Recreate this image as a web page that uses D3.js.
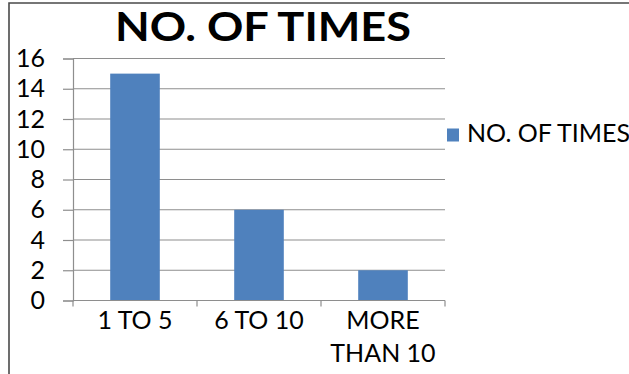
<!DOCTYPE html>
<html>
<head>
<meta charset="utf-8">
<script src="https://cdn.jsdelivr.net/npm/d3@7"></script>
<style>
  html, body { margin: 0; padding: 0; background: #fff; }
  svg { display: block; }
  text { font-family: Lato, "Open Sans", sans-serif; fill: #000; }
</style>
</head>
<body>
<svg id="chart" width="629" height="374"></svg>
<script>
// Chart data
const categories = [["1 TO 5"], ["6 TO 10"], ["MORE", "THAN 10"]];
const seriesName = "NO. OF TIMES";
const values = [15, 6, 2];
const yTicks = [0, 2, 4, 6, 8, 10, 12, 14, 16];
const chartTitle = "NO. OF TIMES";

const svg = d3.select("#chart");
const W = 629, H = 374;
const plot = { left: 73, right: 445, top: 58.5, bottom: 300.5 };
const gridColor = "#8e8e8e";
const barColor = "#4f81bd";

// Frame around the chart area
svg.append("path")
  .attr("d", `M9,${H} V3 H${W}`)
  .attr("fill", "none")
  .attr("stroke", "#4a4a4a")
  .attr("stroke-width", 1.6);

const x = d3.scaleBand()
  .domain(categories.map(c => c.join(" ")))
  .range([plot.left, plot.right])
  .paddingInner(0.6)
  .paddingOuter(0.3);

const y = d3.scaleLinear()
  .domain([0, 16])
  .range([plot.bottom, plot.top]);

// Horizontal gridlines
svg.append("g")
  .selectAll("line")
  .data(yTicks.filter(t => t > 0))
  .join("line")
  .attr("x1", plot.left).attr("x2", plot.right)
  .attr("y1", d => y(d)).attr("y2", d => y(d))
  .attr("stroke", gridColor).attr("stroke-width", 1.2);

// Bars
svg.append("g")
  .selectAll("rect")
  .data(values)
  .join("rect")
  .attr("x", (d, i) => x(categories[i].join(" ")))
  .attr("width", x.bandwidth())
  .attr("y", d => y(d))
  .attr("height", d => y(0) - y(d))
  .attr("fill", barColor);

// Y axis
const yAxis = svg.append("g")
  .attr("transform", `translate(${plot.left},0)`)
  .call(d3.axisLeft(y).tickValues(yTicks).tickSize(10).tickPadding(18).tickFormat(d3.format("d")));
yAxis.select(".domain").attr("stroke", gridColor).attr("stroke-width", 1.2);
yAxis.selectAll(".tick line").attr("stroke", gridColor).attr("stroke-width", 1.2);
yAxis.selectAll(".tick text")
  .attr("font-size", 25)
  .attr("font-family", "Lato, sans-serif")
  .attr("fill", "#000");

// X axis with ticks on the category boundaries
const xAxis = svg.append("g").attr("transform", `translate(0,${plot.bottom})`);
xAxis.append("line")
  .attr("x1", plot.left).attr("x2", plot.right)
  .attr("stroke", gridColor).attr("stroke-width", 1.2);
const boundaries = [plot.left].concat(x.domain().map(d => x(d) + x.bandwidth() + x.step() * x.paddingInner() / 2));
boundaries[boundaries.length - 1] = plot.right;
xAxis.selectAll("line.tick")
  .data(boundaries)
  .join("line")
  .attr("class", "tick")
  .attr("x1", d => d).attr("x2", d => d)
  .attr("y1", 0).attr("y2", 6)
  .attr("stroke", gridColor).attr("stroke-width", 1.2);

// Category labels
const labels = svg.append("g");
categories.forEach(lines => {
  const key = lines.join(" ");
  const t = labels.append("text")
    .attr("x", x(key) + x.bandwidth() / 2)
    .attr("y", 329)
    .attr("text-anchor", "middle")
    .attr("font-size", 25);
  lines.forEach((ln, j) => {
    t.append("tspan")
      .attr("x", x(key) + x.bandwidth() / 2)
      .attr("dy", j === 0 ? 0 : 33)
      .text(ln);
  });
});

// Title
svg.append("text")
  .attr("x", 263)
  .attr("y", 40.5)
  .attr("text-anchor", "middle")
  .attr("font-size", 41)
  .attr("font-weight", "bold")
  .attr("textLength", 296)
  .attr("lengthAdjust", "spacingAndGlyphs")
  .text(chartTitle);

// Legend
const legend = svg.append("g");
legend.append("rect")
  .attr("x", 447).attr("y", 128.5)
  .attr("width", 12).attr("height", 13)
  .attr("fill", barColor);
legend.append("text")
  .attr("x", 467).attr("y", 142)
  .attr("font-size", 25)
  .text(seriesName);
</script>
</body>
</html>
